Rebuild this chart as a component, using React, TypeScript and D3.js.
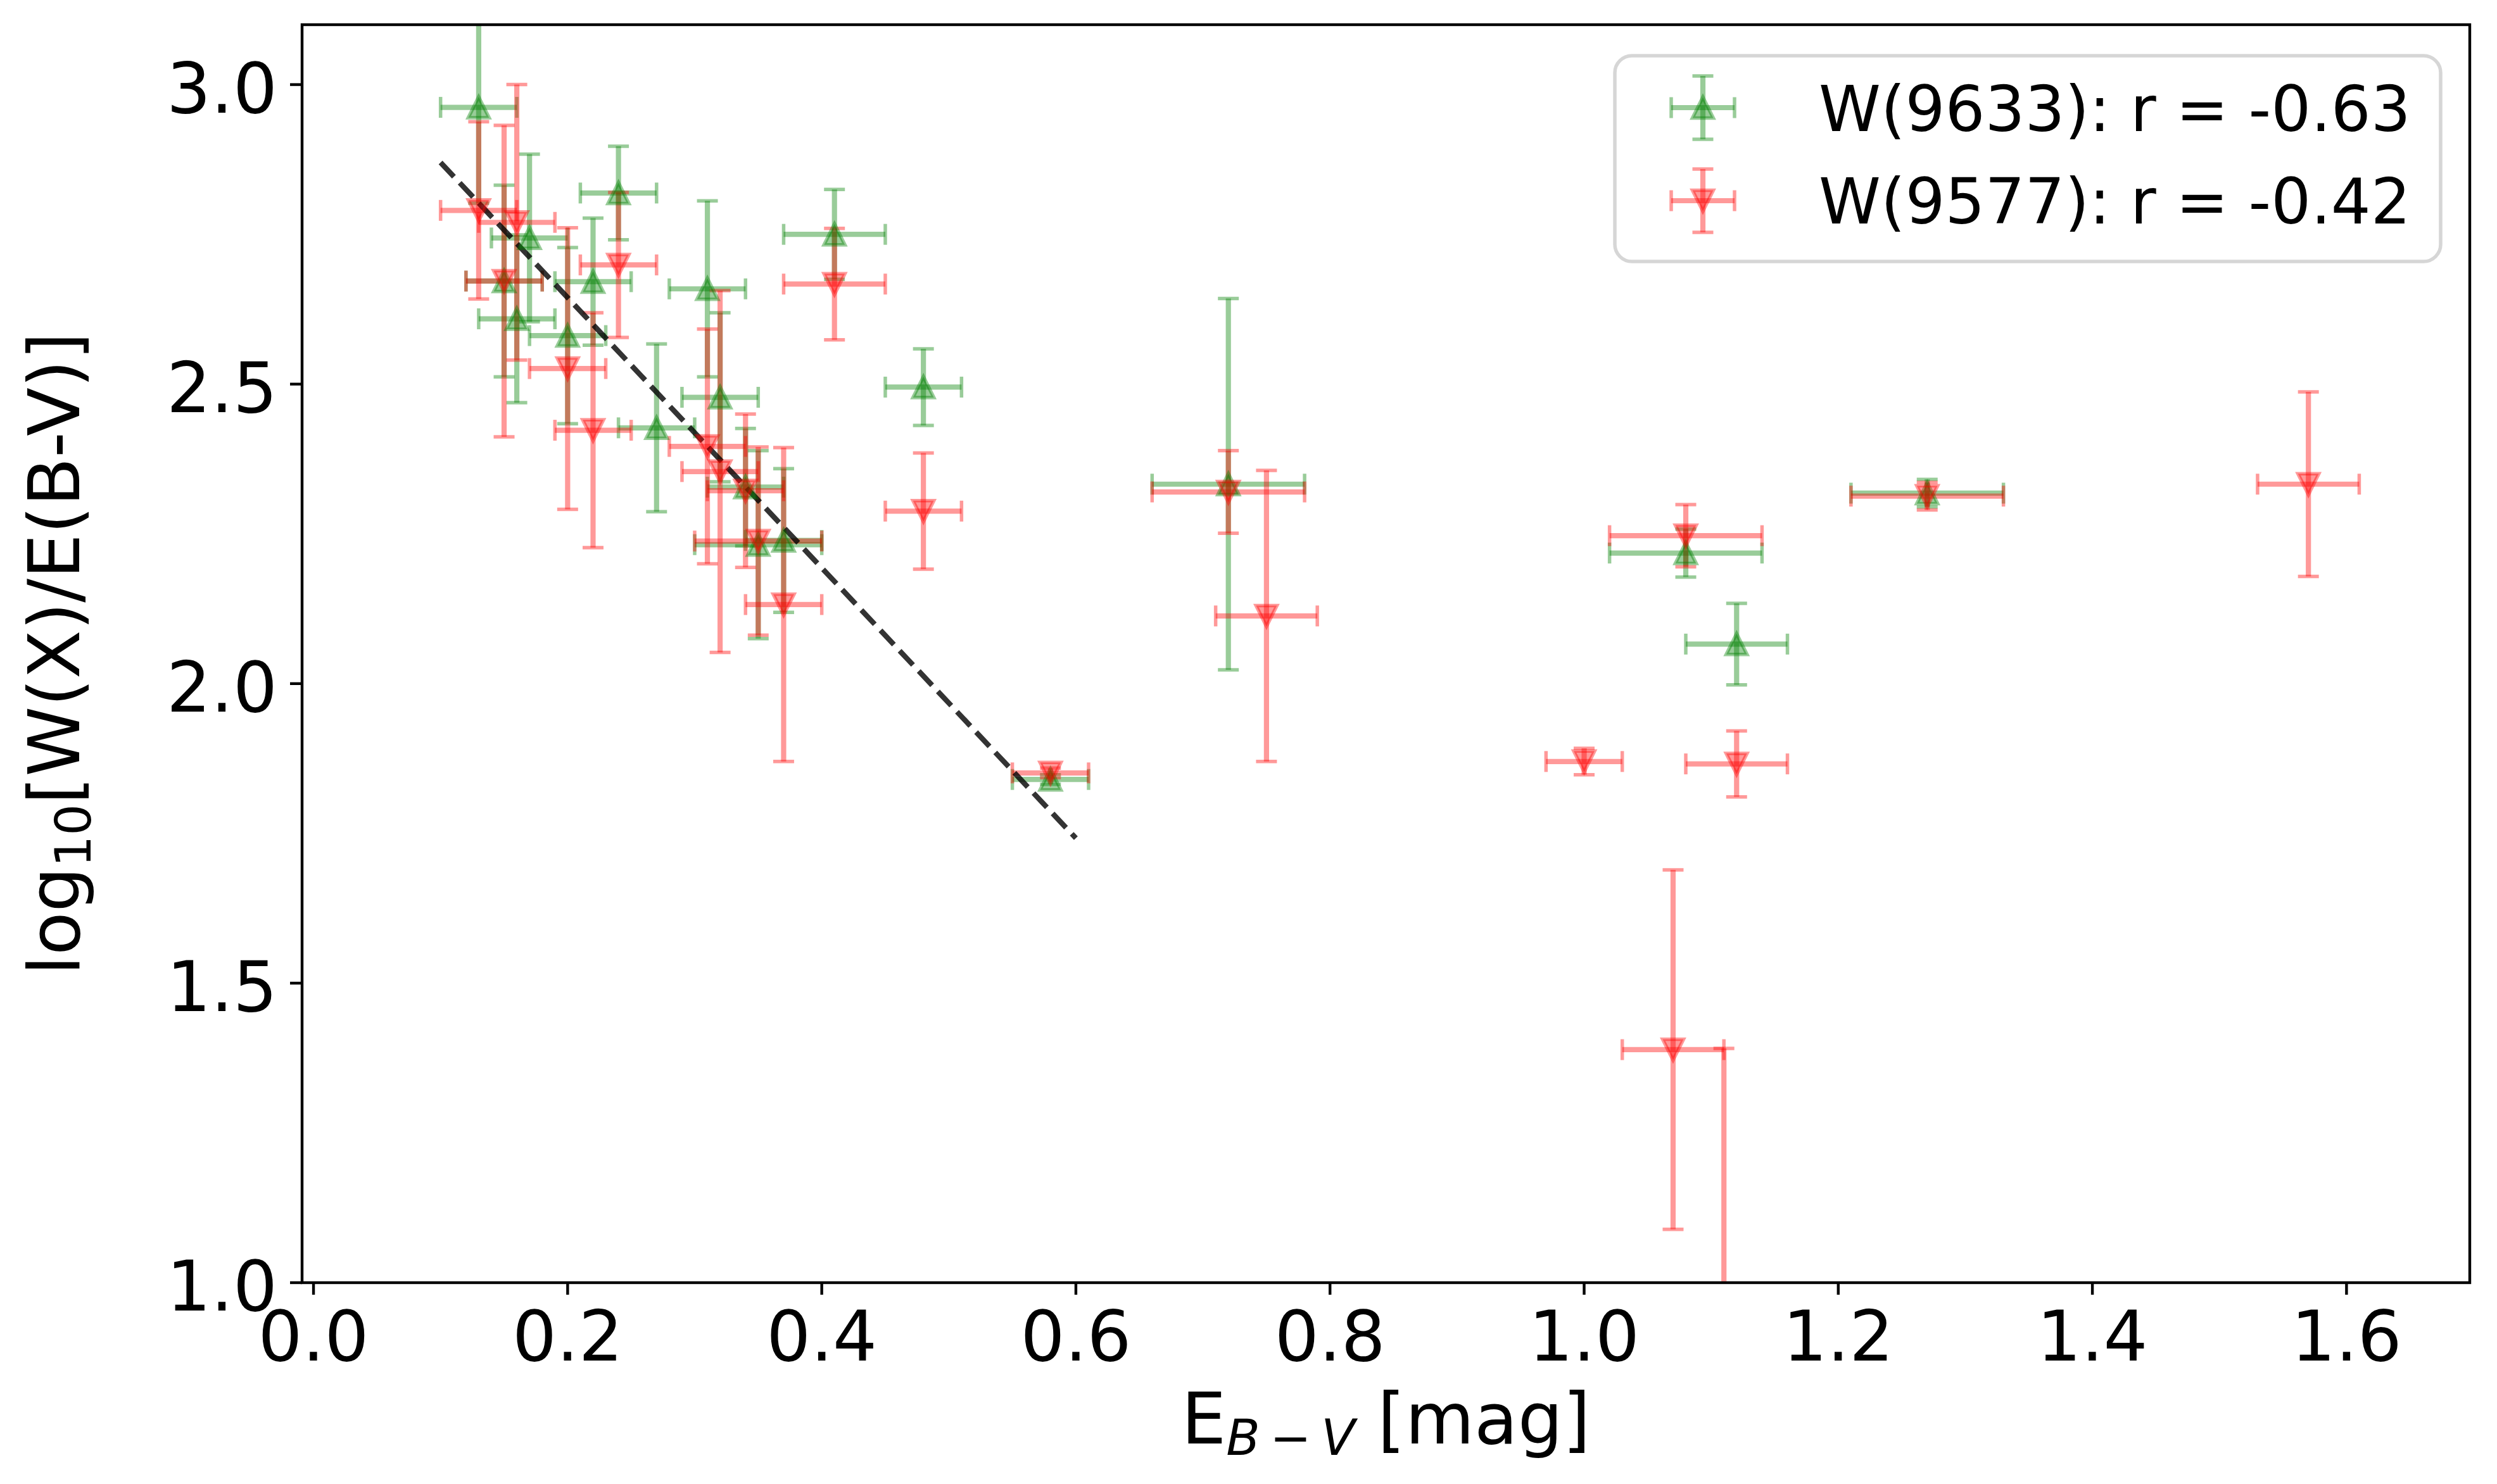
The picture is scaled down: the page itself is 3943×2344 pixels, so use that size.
import * as d3 from "d3";

// W(9633) – green, triangle up
const greenX = [0.13, 0.15, 0.16, 0.17, 0.20, 0.22, 0.24, 0.27, 0.31, 0.32, 0.34, 0.35, 0.37, 0.41, 0.48, 0.58, 0.72, 1.08, 1.12, 1.27];
const greenY = [2.962, 2.672, 2.609, 2.744, 2.581, 2.671, 2.819, 2.427, 2.659, 2.478, 2.328, 2.232, 2.239, 2.750, 2.495, 1.840, 2.333, 2.218, 2.066, 2.318];
const greenXerr = [0.03, 0.03, 0.03, 0.03, 0.03, 0.03, 0.03, 0.03, 0.03, 0.03, 0.03, 0.05, 0.03, 0.04, 0.03, 0.03, 0.06, 0.06, 0.04, 0.06];
const greenYerr = [0.16, 0.16, 0.14, 0.14, 0.147, 0.106, 0.078, 0.14, 0.147, 0.141, 0.098, 0.157, 0.12, 0.075, 0.064, 0.008, 0.31, 0.04, 0.068, 0.023];

// W(9577) – red, triangle down
const redX = [0.13, 0.15, 0.16, 0.20, 0.22, 0.24, 0.31, 0.32, 0.34, 0.35, 0.37, 0.41, 0.48, 0.58, 0.72, 0.75, 1.00, 1.07, 1.08, 1.11, 1.12, 1.27, 1.57];
const redY = [2.790, 2.672, 2.770, 2.526, 2.423, 2.699, 2.396, 2.354, 2.322, 2.238, 2.132, 2.667, 2.288, 1.851, 2.320, 2.113, 1.870, 1.389, 2.247, 0.900, 1.866, 2.313, 2.333];
const redXerr = [0.03, 0.03, 0.03, 0.03, 0.03, 0.03, 0.03, 0.03, 0.03, 0.05, 0.03, 0.04, 0.03, 0.03, 0.06, 0.04, 0.03, 0.04, 0.06, 0.04, 0.04, 0.06, 0.04];
const redYerr = [0.148, 0.26, 0.23, 0.235, 0.196, 0.121, 0.196, 0.302, 0.128, 0.157, 0.262, 0.093, 0.097, 0.008, 0.069, 0.243, 0.022, 0.30, 0.052, 0.491, 0.055, 0.023, 0.154];

// dashed trend line
const fitX = [0.1, 0.6];
const fitY = [2.87, 1.742];

const xTicks = [0.0, 0.2, 0.4, 0.6, 0.8, 1.0, 1.2, 1.4, 1.6];
const yTicks = [1.0, 1.5, 2.0, 2.5, 3.0];
const legendLabels = ["W(9633): r = -0.63", "W(9577): r = -0.42"];

const WIDTH = 3943;
const HEIGHT = 2344;
const plot = { left: 477, right: 3900, top: 39, bottom: 2026 };

const FONT = "DejaVu Sans, sans-serif";
const ALPHA = 0.4;
const ELW = 8.2; // error bar line width
const CAP = 16.5; // cap half length
const CAPW = 5.5; // cap thickness
const MS = 33; // marker size
const MEW = 5.5; // marker edge width

const x = d3.scaleLinear().domain([-0.009, 1.697]).range([plot.left, plot.right]);
const y = d3.scaleLinear().domain([1.0, 3.1]).range([plot.bottom, plot.top]);

const triPath = (cx: number, cy: number, up: boolean) => {
  const h = MS / 2;
  const s = up ? 1 : -1;
  return `M${cx},${cy - s * h}L${cx - h},${cy + s * h}L${cx + h},${cy + s * h}Z`;
};

function Bars({ xs, ys, xe, ye, color }: { xs: number[]; ys: number[]; xe: number[]; ye: number[]; color: string }) {
  return (
    <g stroke={color} strokeOpacity={ALPHA} fill="none">
      {xs.map((d, i) => {
        const cx = x(d), cy = y(ys[i]);
        const x0 = x(d - xe[i]), x1 = x(d + xe[i]);
        const y0 = y(ys[i] - ye[i]), y1 = y(ys[i] + ye[i]);
        return (
          <g key={i}>
            <line x1={x0} x2={x1} y1={cy} y2={cy} strokeWidth={ELW} />
            <line x1={cx} x2={cx} y1={y0} y2={y1} strokeWidth={ELW} />
            <line x1={x0} x2={x0} y1={cy - CAP} y2={cy + CAP} strokeWidth={CAPW} />
            <line x1={x1} x2={x1} y1={cy - CAP} y2={cy + CAP} strokeWidth={CAPW} />
            <line x1={cx - CAP} x2={cx + CAP} y1={y0} y2={y0} strokeWidth={CAPW} />
            <line x1={cx - CAP} x2={cx + CAP} y1={y1} y2={y1} strokeWidth={CAPW} />
          </g>
        );
      })}
    </g>
  );
}

function Markers({ xs, ys, color, up }: { xs: number[]; ys: number[]; color: string; up: boolean }) {
  return (
    <g fill={color} fillOpacity={ALPHA} stroke={color} strokeOpacity={ALPHA} strokeWidth={MEW}>
      {xs.map((d, i) => (
        <path key={i} d={triPath(x(d), y(ys[i]), up)} />
      ))}
    </g>
  );
}

function LegendHandle({ cx, cy, color, up }: { cx: number; cy: number; color: string; up: boolean }) {
  const r = 50;
  return (
    <g>
      <g stroke={color} strokeOpacity={ALPHA}>
        <line x1={cx - r} x2={cx + r} y1={cy} y2={cy} strokeWidth={ELW} />
        <line x1={cx} x2={cx} y1={cy - r} y2={cy + r} strokeWidth={ELW} />
        <line x1={cx - r} x2={cx - r} y1={cy - CAP} y2={cy + CAP} strokeWidth={CAPW} />
        <line x1={cx + r} x2={cx + r} y1={cy - CAP} y2={cy + CAP} strokeWidth={CAPW} />
        <line x1={cx - CAP} x2={cx + CAP} y1={cy - r} y2={cy - r} strokeWidth={CAPW} />
        <line x1={cx - CAP} x2={cx + CAP} y1={cy + r} y2={cy + r} strokeWidth={CAPW} />
      </g>
      <path d={triPath(cx, cy, up)} fill={color} fillOpacity={ALPHA} stroke={color} strokeOpacity={ALPHA} strokeWidth={MEW} />
    </g>
  );
}

export default function App() {
  const line = d3.line<number>().x((d) => x(d)).y((_, i) => y(fitY[i]));
  return (
    <svg
      width={WIDTH}
      height={HEIGHT}
      viewBox={`0 0 ${WIDTH} ${HEIGHT}`}
      style={{ position: "absolute", left: 0, top: 0, background: "#fff" }}
      fontFamily={FONT}
    >
      <rect width={WIDTH} height={HEIGHT} fill="#fff" />
      <defs>
        <clipPath id="plotClip">
          <rect x={plot.left} y={plot.top} width={plot.right - plot.left} height={plot.bottom - plot.top} />
        </clipPath>
      </defs>

      <g clipPath="url(#plotClip)">
        <Bars xs={greenX} ys={greenY} xe={greenXerr} ye={greenYerr} color="#008000" />
        <Bars xs={redX} ys={redY} xe={redXerr} ye={redYerr} color="#ff0000" />
        <path d={line(fitX) ?? ""} fill="none" stroke="#000" strokeOpacity={0.8} strokeWidth={8.3} strokeDasharray="30.8 13.3" />
        <Markers xs={greenX} ys={greenY} color="#008000" up={true} />
        <Markers xs={redX} ys={redY} color="#ff0000" up={false} />
      </g>

      {/* axes frame */}
      <rect
        x={plot.left}
        y={plot.top}
        width={plot.right - plot.left}
        height={plot.bottom - plot.top}
        fill="none"
        stroke="#000"
        strokeWidth={4.4}
      />

      {/* x ticks */}
      {xTicks.map((t) => (
        <g key={t}>
          <line x1={x(t)} x2={x(t)} y1={plot.bottom} y2={plot.bottom + 19} stroke="#000" strokeWidth={4.4} />
          <text x={x(t)} y={2149} fontSize={110} textAnchor="middle">
            {t.toFixed(1)}
          </text>
        </g>
      ))}

      {/* y ticks */}
      {yTicks.map((t) => (
        <g key={t}>
          <line x1={plot.left - 19} x2={plot.left} y1={y(t)} y2={y(t)} stroke="#000" strokeWidth={4.4} />
          <text x={438} y={y(t) + 44} fontSize={110} textAnchor="end">
            {t.toFixed(1)}
          </text>
        </g>
      ))}

      {/* x label */}
      <text x={(plot.left + plot.right) / 2} y={2280} fontSize={112} textAnchor="middle">
        E
        <tspan fontStyle="italic" fontSize={78} dy={18}>
          B{"\u2009"}−{"\u2009"}V
        </tspan>
        <tspan dy={-18}> [mag]</tspan>
      </text>

      {/* y label */}
      <text transform={`translate(125,${(plot.top + plot.bottom) / 2}) rotate(-90)`} fontSize={112} textAnchor="middle">
        log
        <tspan fontSize={78} dy={18}>
          10
        </tspan>
        <tspan dy={-18}>[W(X)/E(B-V)]</tspan>
      </text>

      {/* legend */}
      <g>
        <rect x={2550} y={88} width={1304} height={325} rx={27} ry={27} fill="#fff" fillOpacity={0.8} stroke="#cccccc" strokeOpacity={0.8} strokeWidth={5.5} />
        <LegendHandle cx={2689} cy={170} color="#008000" up={true} />
        <LegendHandle cx={2689} cy={317} color="#ff0000" up={false} />
        <text x={2872} y={207} fontSize={99}>
          {legendLabels[0]}
        </text>
        <text x={2872} y={353} fontSize={99}>
          {legendLabels[1]}
        </text>
      </g>
    </svg>
  );
}
